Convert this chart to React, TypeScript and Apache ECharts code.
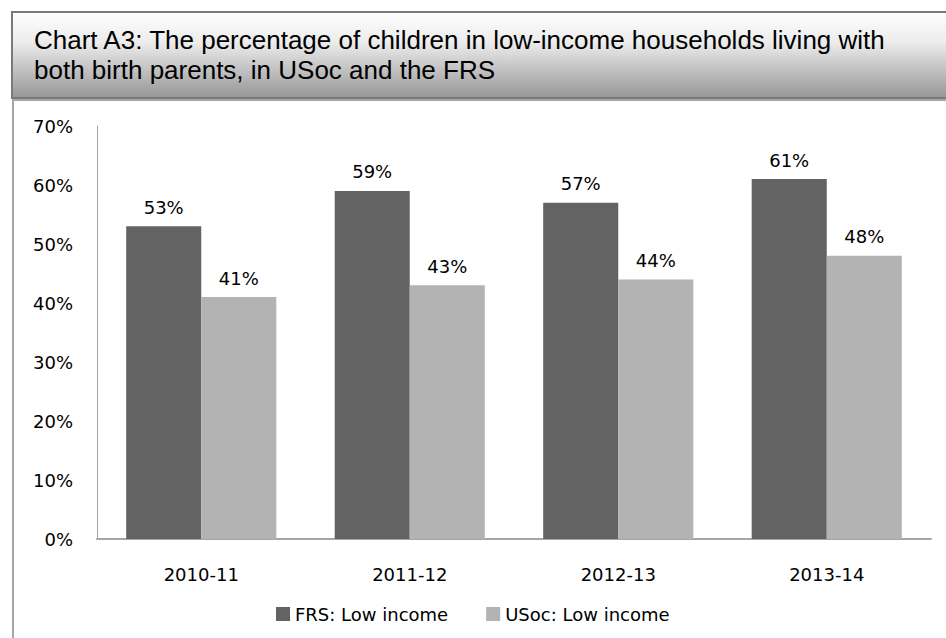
import React, { useEffect, useRef } from "react";
import * as echarts from "echarts";

const categories = ["2010-11", "2011-12", "2012-13", "2013-14"];
const frsValues = [53, 59, 57, 61];
const usocValues = [41, 43, 44, 48];
const seriesNames = ["FRS: Low income", "USoc: Low income"];
const titleLines = [
  "Chart A3: The percentage of children in low-income households living with",
  "both birth parents, in USoc and the FRS",
];

const FONT = "DejaVu Sans";

export default function App() {
  const ref = useRef<HTMLDivElement>(null);
  useEffect(() => {
    const chart = echarts.init(ref.current!, null, { renderer: "svg" });
    const labelStyle = {
      show: true,
      position: "top" as const,
      distance: 10,
      formatter: "{c}%",
      color: "#000",
      fontFamily: FONT,
      fontSize: 18,
    };
    chart.setOption({
      animation: false,
      backgroundColor: "#ffffff",
      graphic: [
        {
          type: "rect",
          z: -10,
          shape: { x: 13, y: 100, width: 945, height: 560 },
          style: { fill: "#ffffff", stroke: "#a6a6a6", lineWidth: 2 },
          silent: true,
        },
        {
          type: "rect",
          z: -9,
          shape: { x: 12, y: 12, width: 945, height: 86 },
          style: {
            fill: new echarts.graphic.LinearGradient(0, 0, 0, 1, [
              { offset: 0, color: "#ffffff" },
              { offset: 0.35, color: "#ececec" },
              { offset: 1, color: "#969696" },
            ]),
            stroke: "#7a7a7a",
            lineWidth: 2,
          },
          silent: true,
        },
        {
          type: "text",
          z: 10,
          x: 34,
          y: 25,
          style: {
            text: titleLines.join("\n"),
            fontFamily: "Liberation Sans",
            fontSize: 26,
            lineHeight: 30,
            fill: "#000",
            textVerticalAlign: "top",
          },
          silent: true,
        },
      ],
      legend: {
        data: seriesNames,
        left: 271,
        top: 600,
        itemWidth: 14,
        itemHeight: 14,
        itemGap: 38,
        textStyle: { fontFamily: FONT, fontSize: 18, color: "#000" },
        icon: "rect",
      },
      grid: { left: 97, right: 15, top: 126, bottom: 99, containLabel: false },
      xAxis: {
        type: "category",
        data: categories,
        axisLine: { show: true, lineStyle: { color: "#a6a6a6", width: 2 } },
        axisTick: { show: false },
        axisLabel: { fontFamily: FONT, fontSize: 18, color: "#000", margin: 26 },
      },
      yAxis: {
        type: "value",
        min: 0,
        max: 70,
        interval: 10,
        axisLine: { show: true, lineStyle: { color: "#a6a6a6", width: 1 } },
        axisTick: { show: false },
        splitLine: { show: false },
        axisLabel: {
          formatter: "{value}%",
          fontFamily: FONT,
          fontSize: 18,
          color: "#000",
          margin: 24,
        },
      },
      series: [
        {
          name: seriesNames[0],
          type: "bar",
          data: frsValues,
          itemStyle: { color: "#636363" },
          barGap: "0%",
          barCategoryGap: "28%",
          label: labelStyle,
        },
        {
          name: seriesNames[1],
          type: "bar",
          data: usocValues,
          itemStyle: { color: "#b3b3b3" },
          barGap: "0%",
          barCategoryGap: "28%",
          label: labelStyle,
        },
      ],
    });
    return () => chart.dispose();
  }, []);
  return (
    <div
      ref={ref}
      style={{ position: "fixed", left: 0, top: 0, width: 946, height: 638 }}
    />
  );
}
